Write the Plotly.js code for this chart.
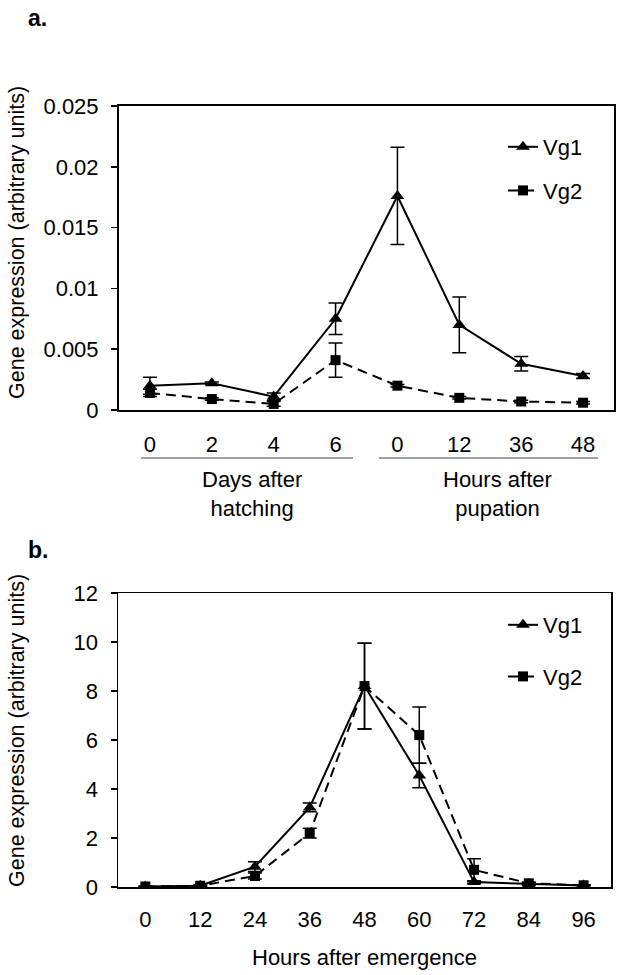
<!DOCTYPE html>
<html><head><meta charset="utf-8">
<script src="https://cdn.plot.ly/plotly-3.0.1.min.js"></script>
<style>html,body{margin:0;padding:0;background:#fff}#chart{width:621px;height:975px}</style>
</head><body><div id="chart"></div>
<script>
// Panel a: developmental stages
const stageCategories = ["0 d","2 d","4 d","6 d","0 h","12 h","36 h","48 h"];
const stageTickLabels = ["0","2","4","6","0","12","36","48"];
const vg1StageValues = [0.0020, 0.0022, 0.0011, 0.0075, 0.0176, 0.0070, 0.0038, 0.0028];
const vg1StageErrors = [0.0007, 0.0001, 0.0003, 0.0013, 0.0040, 0.0023, 0.0006, 0.0002];
const vg2StageValues = [0.0014, 0.0009, 0.0005, 0.0041, 0.0020, 0.0010, 0.0007, 0.0006];
const vg2StageErrors = [0.0003, 0.0001, 0.0002, 0.0014, 0.0001, 0.0001, 0.0001, 0.0001];
// Panel b: hours after emergence
const emergenceHours = [0, 12, 24, 36, 48, 60, 72, 84, 96];
const vg1AdultValues = [0.02, 0.05, 0.83, 3.25, 8.2, 4.55, 0.2, 0.12, 0.06];
const vg1AdultErrors = [0.01, 0.02, 0.2, 0.18, 1.75, 0.5, 0.05, 0.05, 0.02];
const vg2AdultValues = [0.02, 0.05, 0.45, 2.2, 8.2, 6.2, 0.7, 0.15, 0.07];
const vg2AdultErrors = [0.01, 0.02, 0.12, 0.2, 1.75, 1.15, 0.45, 0.05, 0.02];

const FONT = "Liberation Sans, Arial, sans-serif";
const H = 975, W = 621;
const py = p => 1 - p / H;
const px = p => p / W;

function series(x, y, err, name, sym, dash, xa, ya, leg, group, show) {
  return {
    x: x, y: y, name: name, type: "scatter", mode: "lines+markers",
    xaxis: xa, yaxis: ya, legend: leg, legendgroup: group, showlegend: show,
    line: {color: "#000", width: 2, dash: dash},
    marker: {symbol: sym, size: sym === "square" ? 10 : 12, color: "#000"},
    error_y: {type: "data", array: err, visible: true, color: "#000", thickness: 1.5, width: 7},
    hoverinfo: "skip"
  };
}

const data = [
  series(stageCategories, vg1StageValues, vg1StageErrors, "Vg1", "triangle-up", "solid", "x", "y", "legend", "a1", true),
  series(stageCategories, vg2StageValues, vg2StageErrors, "Vg2", "square", "10px,6px", "x", "y", "legend", "a2", true),
  series(emergenceHours, vg1AdultValues, vg1AdultErrors, "Vg1", "triangle-up", "solid", "x2", "y2", "legend2", "b1", true),
  series(emergenceHours, vg2AdultValues, vg2AdultErrors, "Vg2", "square", "10px,6px", "x2", "y2", "legend2", "b2", true)
];

const axisBase = {showline: true, linecolor: "#000", mirror: true, showgrid: false, zeroline: false,
  tickfont: {family: FONT, size: 22, color: "#000"}, fixedrange: true};

const layout = {
  width: W, height: H, margin: {l: 0, r: 0, t: 0, b: 0},
  paper_bgcolor: "#fff", plot_bgcolor: "#fff",
  font: {family: FONT, size: 22, color: "#000"},
  xaxis: Object.assign({}, axisBase, {domain: [px(119), px(614)], anchor: "y", type: "category",
    categoryorder: "array", categoryarray: stageCategories, tickvals: stageCategories, ticktext: stageTickLabels,
    range: [-0.5, 7.5], ticks: "", linewidth: 2, ticklabelstandoff: 14}),
  yaxis: Object.assign({}, axisBase, {domain: [py(410), py(106)], anchor: "x", range: [0, 0.025], dtick: 0.005,
    ticks: "outside", ticklen: 6, tickwidth: 1.5, tickcolor: "#000", linewidth: 2, ticklabelstandoff: 8}),
  xaxis2: Object.assign({}, axisBase, {domain: [px(118), px(611)], anchor: "y2", range: [-6, 102],
    tickvals: emergenceHours, ticks: "", linewidth: 1.5, ticklabelstandoff: 12,
    title: {text: "Hours after emergence", font: {family: FONT, size: 22, color: "#000"}, standoff: 18}}),
  yaxis2: Object.assign({}, axisBase, {domain: [py(887), py(593)], anchor: "x2", range: [0, 12], dtick: 2,
    ticks: "outside", ticklen: 6, tickwidth: 1.5, tickcolor: "#000", linewidth: 1.5, ticklabelstandoff: 8}),
  legend: {x: px(503), y: py(126), xanchor: "left", yanchor: "top", bgcolor: "rgba(0,0,0,0)",
    font: {family: FONT, size: 22, color: "#000"}, tracegroupgap: 12},
  legend2: {x: px(503), y: py(604), xanchor: "left", yanchor: "top", bgcolor: "rgba(0,0,0,0)",
    font: {family: FONT, size: 22, color: "#000"}, tracegroupgap: 20},
  shapes: [
    {type: "line", xref: "paper", yref: "paper", x0: px(141), x1: px(353), y0: py(458), y1: py(458), line: {color: "#444", width: 1}},
    {type: "line", xref: "paper", yref: "paper", x0: px(379), x1: px(598), y0: py(458), y1: py(458), line: {color: "#444", width: 1}}
  ],
  annotations: [
    {text: "<b>a.</b>", xref: "paper", yref: "paper", x: px(26), y: py(3), xanchor: "left", yanchor: "top", showarrow: false, font: {family: FONT, size: 23, color: "#000"}},
    {text: "<b>b.</b>", xref: "paper", yref: "paper", x: px(26), y: py(535), xanchor: "left", yanchor: "top", showarrow: false, font: {family: FONT, size: 23, color: "#000"}},
    {text: "Days after<br>hatching", xref: "paper", yref: "paper", x: px(252), y: py(465), xanchor: "center", yanchor: "top", showarrow: false, font: {family: FONT, size: 22, color: "#000"}},
    {text: "Hours after<br>pupation", xref: "paper", yref: "paper", x: px(497), y: py(465), xanchor: "center", yanchor: "top", showarrow: false, font: {family: FONT, size: 22, color: "#000"}},
    {text: "Gene expression (arbitrary units)", xref: "paper", yref: "paper", x: px(17), y: py(243), xanchor: "center", yanchor: "middle", textangle: -90, showarrow: false, font: {family: FONT, size: 21.5, color: "#000"}},
    {text: "Gene expression (arbitrary units)", xref: "paper", yref: "paper", x: px(17), y: py(731), xanchor: "center", yanchor: "middle", textangle: -90, showarrow: false, font: {family: FONT, size: 21.5, color: "#000"}}
  ],
  showlegend: true
};

Plotly.newPlot("chart", data, layout, {displayModeBar: false, staticPlot: true});
</script></body></html>
